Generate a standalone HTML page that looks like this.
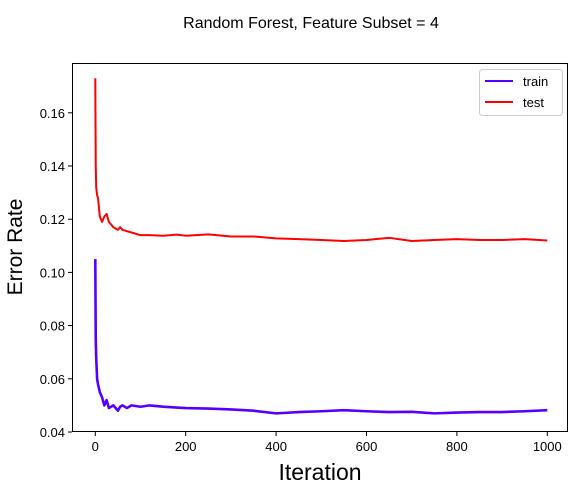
<!DOCTYPE html>
<html><head><meta charset="utf-8"><style>body{margin:0;background:#fff}text{font-family:"Liberation Sans","DejaVu Sans",sans-serif}</style></head>
<body>
<svg id="chart" width="582" height="489">
<text x="311" y="28" font-size="16" text-anchor="middle">Random Forest, Feature Subset = 4</text>
<g id="axes"></g>
<text x="320" y="480" font-size="23" text-anchor="middle">Iteration</text>
<text transform="translate(22,247) rotate(-90)" font-size="21" text-anchor="middle">Error Rate</text>
</svg>
<script>
const iters=[0,1,2,4,6,10,15,20,25,30,40,50,55,60,70,80,100,120,150,180,200,250,300,350,400,450,500,550,600,650,700,750,800,850,900,950,1000];
const testVals=[0.173,0.140,0.132,0.129,0.128,0.121,0.119,0.121,0.122,0.119,0.117,0.116,0.117,0.116,0.1155,0.115,0.114,0.114,0.1138,0.1142,0.1138,0.1143,0.1135,0.1135,0.1128,0.1125,0.1122,0.1118,0.1122,0.1130,0.1118,0.1122,0.1125,0.1122,0.1122,0.1125,0.1120];
const trainVals=[0.105,0.075,0.068,0.060,0.058,0.055,0.053,0.050,0.052,0.049,0.050,0.048,0.0495,0.050,0.049,0.050,0.0495,0.050,0.0495,0.0492,0.049,0.0488,0.0485,0.048,0.047,0.0475,0.0478,0.0482,0.0478,0.0475,0.0476,0.047,0.0473,0.0475,0.0475,0.0478,0.0482];
const xTicks=[0,200,400,600,800,1000];
const yTicks=[0.04,0.06,0.08,0.10,0.12,0.14,0.16];
const L=72,R=568,T=63,B=432;
const x=v=>95.3+v*0.452;
const y=v=>432-(v-0.04)*2660;
const NS='http://www.w3.org/2000/svg';
const g=document.getElementById('axes');
function mk(tag,attrs){const e=document.createElementNS(NS,tag);for(const k in attrs)e.setAttribute(k,attrs[k]);g.appendChild(e);return e;}
xTicks.forEach(t=>{
 const l=mk('line',{x1:x(t),x2:x(t),y1:B,y2:B+4,stroke:'#000'});
 
 
 const tx=mk('text',{x:x(t),y:B+19,'font-size':13,'text-anchor':'middle'});tx.textContent=t;
 
 
});
yTicks.forEach(t=>{
 const l=mk('line',{x1:L-4,x2:L,y1:y(t),y2:y(t),stroke:'#000'});
 
 
 const tx=mk('text',{x:L-7,y:y(t)+5,'font-size':13,'text-anchor':'end'});tx.textContent=t.toFixed(2);
 
 
});
function line(vals,color,w,name){
 const p=mk('polyline',{points:iters.map((it,i)=>x(it)+','+y(vals[i])).join(' '),fill:'none',stroke:color,'stroke-width':w,'stroke-linejoin':'round'});
 
 
}
line(testVals,'#ff0000',2,'test-line');
line(trainVals,'#5500ff',2.6,'train-line');
const fr=mk('rect',{x:L+0.5,y:T+0.5,width:R-L-1,height:B-T-1,fill:'none',stroke:'#000'});


const lg=mk('rect',{x:479.5,y:69.5,width:83,height:46,fill:'#fff',stroke:'#ccc',rx:3});


[['train','#5500ff',81],['test','#ff0000',102]].forEach(([n,c,yy])=>{
 const l=mk('line',{x1:485,x2:513,y1:yy,y2:yy,stroke:c,'stroke-width':2});
 
 
 const t=mk('text',{x:523,y:yy+5,'font-size':13});t.textContent=n;
 
 
});
</script>
</body></html>
